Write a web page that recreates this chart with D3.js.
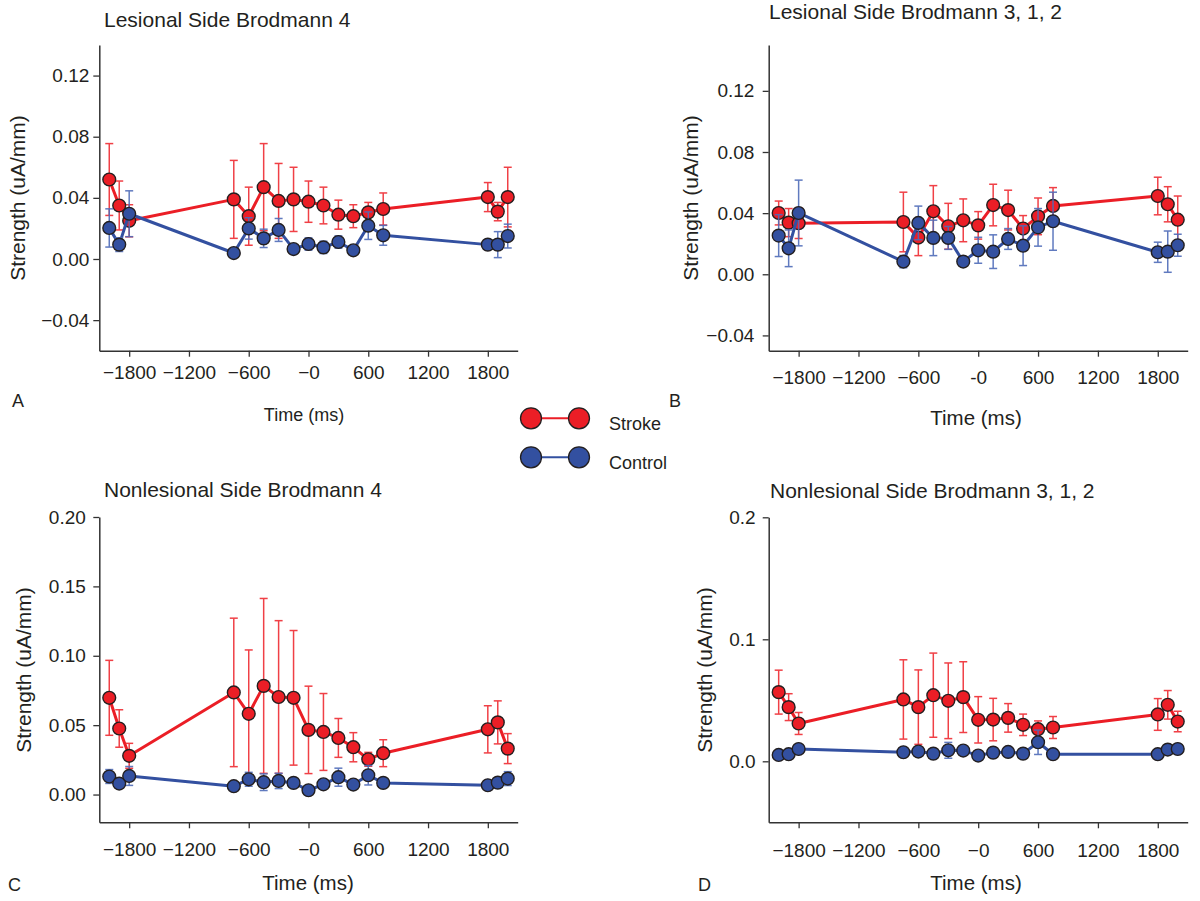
<!DOCTYPE html>
<html>
<head>
<meta charset="utf-8">
<script src="https://cdn.jsdelivr.net/npm/d3@7"></script>
<style>
  body { margin: 0; background: #fff; }
  svg { display: block; font-family: "Liberation Sans", Arial, sans-serif; }
</style>
</head>
<body>
<div id="chart"></div>
<script>
// time points (ms) shared by all panels
const times = [-2000, -1900, -1800, -750, -600, -450, -300, -150, 0, 150, 300, 450, 600, 750, 1800, 1900, 2000];
const xTicks = [-1800, -1200, -600, 0, 600, 1200, 1800];
const xTickLabels = ["\u22121800", "\u22121200", "\u2212600", "\u22120", "600", "1200", "1800"];
const xTickLabelsB = ["\u22121800", "\u22121200", "\u2212600", "-0", "600", "1200", "1800"];

// A: Lesional Side Brodmann 4
const strokeA = [0.052, 0.035, 0.025, 0.039, 0.028, 0.047, 0.038, 0.039, 0.0375, 0.035, 0.029, 0.028, 0.0305, 0.0327, 0.0405, 0.031, 0.0405];
const strokeAErr = [0.0235, 0.016, 0.0105, 0.0255, 0.019, 0.0285, 0.0245, 0.021, 0.0135, 0.012, 0.0095, 0.0075, 0.0065, 0.0105, 0.0095, 0.006, 0.0195];
const controlA = [0.0203, 0.0094, 0.0296, 0.0039, 0.020, 0.0135, 0.019, 0.0065, 0.0098, 0.0076, 0.0111, 0.0057, 0.0218, 0.0155, 0.0094, 0.0094, 0.015];
const controlAErr = [0.0125, 0.0045, 0.015, 0.001, 0.007, 0.006, 0.0075, 0.001, 0.004, 0.004, 0.004, 0.001, 0.009, 0.0065, 0.001, 0.0085, 0.0078];

// B: Lesional Side Brodmann 3, 1, 2
const strokeB = [0.0401, 0.0338, 0.0334, 0.0342, 0.024, 0.0412, 0.0314, 0.0353, 0.032, 0.0453, 0.042, 0.0299, 0.0379, 0.0447, 0.0512, 0.0458, 0.0357];
const strokeBErr = [0.0078, 0.0092, 0.010, 0.0195, 0.0118, 0.0168, 0.015, 0.014, 0.009, 0.0136, 0.013, 0.0085, 0.012, 0.012, 0.0123, 0.0115, 0.0155];
const controlB = [0.0253, 0.017, 0.0401, 0.0083, 0.0336, 0.0238, 0.0238, 0.0083, 0.0157, 0.0148, 0.0231, 0.0187, 0.0307, 0.0347, 0.0144, 0.0148, 0.019];
const controlBErr = [0.0137, 0.012, 0.0215, 0.004, 0.011, 0.0116, 0.0075, 0.001, 0.0085, 0.011, 0.0068, 0.013, 0.0123, 0.019, 0.0066, 0.0135, 0.0072];

// C: Nonlesional Side Brodmann 4
const strokeC = [0.0697, 0.0476, 0.0279, 0.0736, 0.0582, 0.0783, 0.0703, 0.0697, 0.0466, 0.0451, 0.0408, 0.0341, 0.0254, 0.0298, 0.047, 0.052, 0.0331];
const strokeCErr = [0.027, 0.0135, 0.009, 0.0535, 0.046, 0.063, 0.055, 0.0485, 0.0315, 0.0277, 0.014, 0.0105, 0.005, 0.0097, 0.017, 0.0155, 0.0108];
const controlC = [0.013, 0.0079, 0.0134, 0.006, 0.011, 0.0089, 0.0098, 0.0084, 0.0031, 0.0074, 0.0125, 0.0072, 0.0139, 0.0084, 0.0067, 0.0086, 0.0115];
const controlCErr = [0.005, 0.002, 0.0068, 0.001, 0.005, 0.006, 0.0055, 0.001, 0.001, 0.001, 0.0065, 0.001, 0.007, 0.001, 0.001, 0.001, 0.005];

// D: Nonlesional Side Brodmann 3, 1, 2
const strokeD = [0.0567, 0.0444, 0.031, 0.0507, 0.0444, 0.0542, 0.0496, 0.0526, 0.034, 0.0342, 0.0356, 0.0299, 0.0263, 0.0277, 0.0384, 0.0463, 0.0326];
const strokeDErr = [0.018, 0.011, 0.009, 0.0325, 0.0305, 0.0345, 0.031, 0.029, 0.019, 0.0174, 0.0117, 0.0088, 0.0068, 0.009, 0.013, 0.0117, 0.0084];
const controlD = [0.0052, 0.0058, 0.0101, 0.0074, 0.008, 0.0063, 0.009, 0.0088, 0.0047, 0.0071, 0.0077, 0.0063, 0.0156, 0.0058, 0.0058, 0.0096, 0.0101];
const controlDErr = [0.001, 0.001, 0.001, 0.001, 0.001, 0.001, 0.0065, 0.001, 0.001, 0.001, 0.001, 0.001, 0.01, 0.001, 0.001, 0.004, 0.004];

const RED = "#eb1e26", BLUE = "#3350a0";
const RED_ERR = "#ef2c33", BLUE_ERR = "#4f6cb9";

const panels = [
  {title: "Lesional Side Brodmann 4", letter: "A", stroke: strokeA, sErr: strokeAErr, control: controlA, cErr: controlAErr,
   yDomain: [-0.06, 0.14], yTicks: [-0.04, 0, 0.04, 0.08, 0.12], yFmt: ".2f", xLabels: xTickLabels,
   x0: 99.3, x1: 517.7, yTop: 45, yBot: 350.7, xPad: 9, yPad: 4,
   titleX: 104, titleY: 27, letterX: 12, letterY: 407, xlabX: 304, xlabY: 421, ylabX: 25, ylabY: 198},
  {title: "Lesional Side Brodmann 3, 1, 2", letter: "B", stroke: strokeB, sErr: strokeBErr, control: controlB, cErr: controlBErr,
   yDomain: [-0.05, 0.15], yTicks: [-0.04, 0, 0.04, 0.08, 0.12], yFmt: ".2f", xLabels: xTickLabelsB,
   x0: 768.7, x1: 1187.7, yTop: 45, yBot: 350.7, xPad: 14, yPad: 8.3,
   titleX: 769, titleY: 19, letterX: 669, letterY: 407, xlabX: 976, xlabY: 425, ylabX: 698, ylabY: 198},
  {title: "Nonlesional Side Brodmann 4", letter: "C", stroke: strokeC, sErr: strokeCErr, control: controlC, cErr: controlCErr,
   yDomain: [-0.02, 0.20], yTicks: [0, 0.05, 0.10, 0.15, 0.20], yFmt: ".2f", xLabels: xTickLabels,
   x0: 99.3, x1: 517.7, yTop: 517, yBot: 822.3, xPad: 14.5, yPad: 7.5,
   titleX: 104, titleY: 497, letterX: 8, letterY: 891, xlabX: 308, xlabY: 890, ylabX: 31, ylabY: 670},
  {title: "Nonlesional Side Brodmann 3, 1, 2", letter: "D", stroke: strokeD, sErr: strokeDErr, control: controlD, cErr: controlDErr,
   yDomain: [-0.05, 0.2], yTicks: [0, 0.1, 0.2], yFmt: ".1f", xLabels: xTickLabels,
   x0: 768.7, x1: 1187.7, yTop: 517.3, yBot: 822.3, xPad: 15, yPad: 7,
   titleX: 770, titleY: 498, letterX: 698, letterY: 891, xlabX: 976, xlabY: 890, ylabX: 712, ylabY: 670}
];

const svg = d3.select("#chart").append("svg")
  .attr("width", 1200)
  .attr("height", 901);

svg.append("rect").attr("width", 1200).attr("height", 901).attr("fill", "#fff");

panels.forEach(p => {
  const x = d3.scaleLinear().domain([-2100, 2100]).range([p.x0, p.x1]);
  const y = d3.scaleLinear().domain(p.yDomain).range([p.yBot, p.yTop]);
  const g = svg.append("g");

  // axes
  const xAxis = g.append("g")
    .attr("transform", "translate(0," + p.yBot + ")")
    .call(d3.axisBottom(x).tickValues(xTicks).tickSizeOuter(0).tickPadding(p.xPad)
      .tickFormat((d, i) => p.xLabels[i]));
  const yAxis = g.append("g")
    .attr("transform", "translate(" + p.x0 + ",0)")
    .call(d3.axisLeft(y).tickValues(p.yTicks).tickSizeOuter(0).tickPadding(p.yPad)
      .tickFormat(d3.format(p.yFmt)));
  [xAxis, yAxis].forEach(a => {
    a.select(".domain").attr("stroke", "#333").attr("stroke-width", 1.5);
    a.selectAll(".tick line").attr("stroke", "#333").attr("stroke-width", 1.3);
    a.selectAll("text").attr("font-size", 19).attr("fill", "#231f20")
      .attr("font-family", "'Liberation Sans', Arial, sans-serif");
  });

  // labels
  g.append("text").attr("x", p.titleX).attr("y", p.titleY).attr("font-size", 21).attr("fill", "#231f20").text(p.title);
  g.append("text").attr("x", p.letterX).attr("y", p.letterY).attr("font-size", 18).attr("fill", "#231f20").text(p.letter);
  g.append("text").attr("x", p.xlabX).attr("y", p.xlabY).attr("text-anchor", "middle")
    .attr("font-size", p.letter === "A" ? 18 : 20.5).attr("fill", "#231f20").text("Time (ms)");
  g.append("text").attr("transform", "translate(" + p.ylabX + "," + p.ylabY + ") rotate(-90)")
    .attr("text-anchor", "middle").attr("font-size", 21).attr("fill", "#231f20").text("Strength (uA/mm)");

  const series = [
    {vals: p.stroke, err: p.sErr, color: RED, errColor: RED_ERR},
    {vals: p.control, err: p.cErr, color: BLUE, errColor: BLUE_ERR}
  ];

  series.forEach(s => {
    const data = times.map((t, i) => ({t: t, v: s.vals[i], e: s.err[i]}));
    const line = d3.line().x(d => x(d.t)).y(d => y(d.v));
    g.append("path").datum(data)
      .attr("fill", "none").attr("stroke", s.color).attr("stroke-width", 3)
      .attr("stroke-linejoin", "round").attr("d", line);

    const eb = g.append("g").attr("stroke", s.errColor).attr("stroke-width", 1.5).attr("opacity", 0.9);
    eb.selectAll(".v").data(data).enter().append("line")
      .attr("x1", d => x(d.t)).attr("x2", d => x(d.t))
      .attr("y1", d => y(d.v - d.e)).attr("y2", d => y(d.v + d.e));
    eb.selectAll(".ct").data(data).enter().append("line")
      .attr("x1", d => x(d.t) - 4).attr("x2", d => x(d.t) + 4)
      .attr("y1", d => y(d.v + d.e)).attr("y2", d => y(d.v + d.e));
    eb.selectAll(".cb").data(data).enter().append("line")
      .attr("x1", d => x(d.t) - 4).attr("x2", d => x(d.t) + 4)
      .attr("y1", d => y(d.v - d.e)).attr("y2", d => y(d.v - d.e));

    g.selectAll(null).data(data).enter().append("circle")
      .attr("cx", d => x(d.t)).attr("cy", d => y(d.v)).attr("r", 6.4)
      .attr("fill", s.color).attr("stroke", "#231f20").attr("stroke-width", 1.4);
  });
});

// legend
const legend = [{name: "Stroke", color: RED, y: 418.3}, {name: "Control", color: BLUE, y: 457.3}];
legend.forEach(l => {
  const lg = svg.append("g");
  lg.append("line").attr("x1", 531).attr("x2", 579).attr("y1", l.y).attr("y2", l.y)
    .attr("stroke", l.color).attr("stroke-width", 2);
  [531, 579].forEach(cx => lg.append("circle").attr("cx", cx).attr("cy", l.y).attr("r", 10.5)
    .attr("fill", l.color).attr("stroke", "#231f20").attr("stroke-width", 1.3));
  lg.append("text").attr("x", 609).attr("y", l.y + 11.5).attr("font-size", 18).attr("fill", "#231f20").text(l.name);
});
</script>
</body>
</html>
